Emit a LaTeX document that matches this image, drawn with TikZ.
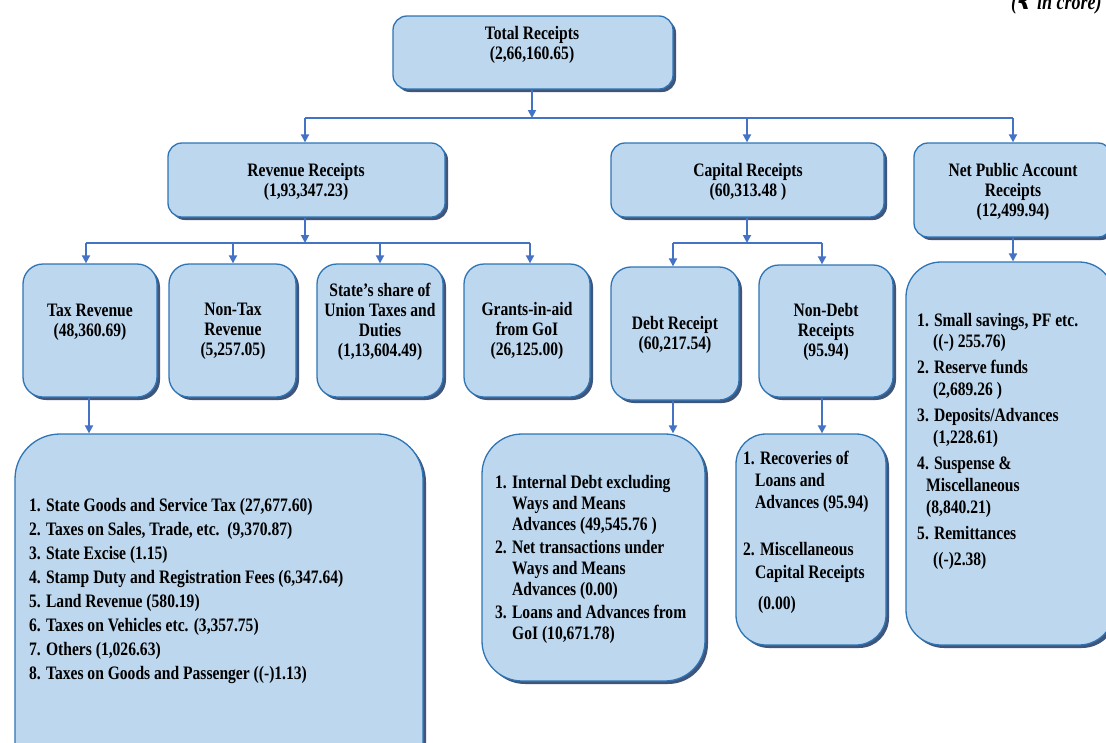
\documentclass[tikz,border=0pt]{standalone}
\usepackage{fontspec}
\setmainfont{Liberation Serif}[FakeStretch=0.82]
\newfontfamily\rupeefont{DejaVu Sans}
\usetikzlibrary{arrows.meta,shadows}
\definecolor{boxfill}{HTML}{BDD7EE}
\definecolor{boxline}{HTML}{2E75B6}
\definecolor{connc}{HTML}{4472C4}
\definecolor{shadc}{HTML}{1F3864}
\tikzset{
  box/.style={draw=boxline, line width=1.3pt, fill=boxfill, rounded corners=#1,
    drop shadow={shadow xshift=3pt,shadow yshift=-3pt,fill=shadc,opacity=0.85},
    inner sep=0pt},
  box/.default=16pt,
  lbl/.style={font=\bfseries\fontsize{19}{20}\selectfont, align=center, inner sep=0pt},
  li/.style={font=\bfseries\fontsize{19}{20}\selectfont, anchor=base west, inner sep=0pt},
  conn/.style={draw=connc, line width=1.8pt},
  arr/.style={conn, -{Triangle[length=8pt,width=8pt]}}
}
\begin{document}
\begin{tikzpicture}[x=1pt,y=-1pt]
\useasboundingbox[fill=white] (0,0) rectangle (1106,742);
% units text
\node[font=\bfseries\itshape\fontsize{22}{24}\selectfont, anchor=base west, inner sep=0pt] (unit) at (1011,9) {({\rupeefont ₹} in crore)};
% boxes
\node[box=14pt, minimum width=280pt, minimum height=73pt] (tot) at (533,52.5) {};
\node[box=14pt, minimum width=277pt, minimum height=74pt] (rev) at (306.5,180) {};
\node[box=14pt, minimum width=273pt, minimum height=74pt] (cap) at (747.5,180) {};
\node[box=14pt, minimum width=198pt, minimum height=94pt] (npa) at (1013,190) {};
\node[box=20pt, minimum width=134pt, minimum height=133pt] (taxr) at (90,330.5) {};
\node[box=20pt, minimum width=127pt, minimum height=133pt] (ntax) at (232.5,330.5) {};
\node[box=20pt, minimum width=126pt, minimum height=133pt] (share) at (380,330.5) {};
\node[box=20pt, minimum width=126pt, minimum height=133pt] (gra) at (527,330.5) {};
\node[box=20pt, minimum width=128pt, minimum height=133pt] (debt) at (675,333.5) {};
\node[box=20pt, minimum width=134pt, minimum height=132pt] (ndebt) at (826,331) {};
\node[box=35pt, minimum width=208pt, minimum height=383pt] (npal) at (1010,453.5) {};
\node[box=45pt, minimum width=408pt, minimum height=356pt] (taxl) at (219,612) {};
\node[box=40pt, minimum width=223pt, minimum height=247pt] (debtl) at (593.5,557.5) {};
\node[box=30pt, minimum width=150pt, minimum height=211pt] (ndebtl) at (811,539.5) {};
% labels
\node[lbl] (tot-t) at (532,45) {Total Receipts\\(2,66,160.65)};
\node[lbl] (rev-t) at (306,182) {Revenue Receipts\\(1,93,347.23)};
\node[lbl] (cap-t) at (748,182) {Capital Receipts\\(60,313.48 )};
\node[lbl] (npa-t) at (1013,192) {Net Public Account\\Receipts\\(12,499.94)};
\node[lbl] (taxr-t) at (90,322) {Tax Revenue\\(48,360.69)};
\node[lbl] (ntax-t) at (233,331) {Non-Tax\\Revenue\\(5,257.05)};
\node[lbl] (share-t) at (380,322) {State’s share of\\Union Taxes and\\Duties\\(1,13,604.49)};
\node[lbl] (gra-t) at (527,331) {Grants-in-aid\\from GoI\\(26,125.00)};
\node[lbl] (debt-t) at (675,335) {Debt Receipt\\(60,217.54)};
\node[lbl] (ndebt-t) at (826,332) {Non-Debt\\Receipts\\(95.94)};
% list texts
\foreach \x/\y/\t [count=\i] in {
  29/511/{1. State Goods and Service Tax (27,677.60)},
  29/535/{2. Taxes on Sales, Trade, etc.\ \ (9,370.87)},
  29/559/{3. State Excise (1.15)},
  29/583/{4. Stamp Duty and Registration Fees (6,347.64)},
  29/607/{5. Land Revenue (580.19)},
  29/631/{6. Taxes on Vehicles etc. (3,357.75)},
  29/655/{7. Others (1,026.63)},
  29/679/{8. Taxes on Goods and Passenger ((-)1.13)}}
  \node[li] (tl\i) at (\x,\y) {\t};
\foreach \x/\y/\t [count=\i] in {
  495/488/{1. Internal Debt excluding},
  512/509/{Ways and Means},
  512/530/{Advances (49,545.76 )},
  495/553/{2. Net transactions under},
  512/574/{Ways and Means},
  512/595/{Advances (0.00)},
  495/618/{3. Loans and Advances from},
  512/639/{GoI (10,671.78)}}
  \node[li] (dl\i) at (\x,\y) {\t};
\foreach \x/\y/\t [count=\i] in {
  743/464/{1. Recoveries of},
  755/486/{Loans and},
  755/508/{Advances (95.94)},
  743/555/{2. Miscellaneous},
  755/578/{Capital Receipts},
  758/609/{(0.00)}}
  \node[li] (nl\i) at (\x,\y) {\t};
\foreach \x/\y/\t [count=\i] in {
  917/326/{1. Small savings, PF etc.},
  933/347/{((-) 255.76)},
  917/373/{2. Reserve funds},
  933/395/{(2,689.26 )},
  917/421/{3. Deposits/Advances},
  933/443/{(1,228.61)},
  917/469/{4. Suspense \&},
  926/491/{Miscellaneous},
  926/513/{(8,840.21)},
  917/539/{5. Remittances},
  933/565/{((-)2.38)}}
  \node[li] (pl\i) at (\x,\y) {\t};
% connectors
\coordinate (bus1) at (532,118);
\coordinate (bus1l) at (305,118);
\coordinate (bus1m) at (747,118);
\coordinate (bus1r) at (1013,118);
\draw[arr] (tot.south -| bus1) -- (bus1);
\draw[conn] (bus1l) -- (bus1r);
\draw[arr] (bus1l) -- (bus1l |- rev.north);
\draw[arr] (bus1m) -- (bus1m |- cap.north);
\draw[arr] (bus1r) -- (bus1r |- npa.north);
% revenue bus
\coordinate (bus2) at (305,243);
\coordinate (bus2a) at (86,243);
\coordinate (bus2b) at (233,243);
\coordinate (bus2c) at (380,243);
\coordinate (bus2d) at (530,243);
\draw[arr] (rev.south -| bus2) -- (bus2);
\draw[conn] (bus2a) -- (bus2d);
\draw[arr] (bus2a) -- (bus2a |- taxr.north);
\draw[arr] (bus2b) -- (bus2b |- ntax.north);
\draw[arr] (bus2c) -- (bus2c |- share.north);
\draw[arr] (bus2d) -- (bus2d |- gra.north);
% capital bus
\coordinate (bus3) at (747,243);
\coordinate (bus3a) at (673,243);
\coordinate (bus3b) at (822,243);
\draw[arr] (cap.south -| bus3) -- (bus3);
\draw[conn] (bus3a) -- (bus3b);
\draw[arr] (bus3a) -- (bus3a |- debt.north);
\draw[arr] (bus3b) -- (bus3b |- ndebt.north);
% lower arrows
\coordinate (c1) at (1013,0);
\draw[arr] (npa.south -| c1) -- (npal.north -| c1);
\coordinate (c2) at (89,0);
\draw[arr] (taxr.south -| c2) -- (taxl.north -| c2);
\coordinate (c3) at (673,0);
\draw[arr] (debt.south -| c3) -- (debtl.north -| c3);
\coordinate (c4) at (822,0);
\draw[arr] (ndebt.south -| c4) -- (ndebtl.north -| c4);
\end{tikzpicture}
\end{document}
